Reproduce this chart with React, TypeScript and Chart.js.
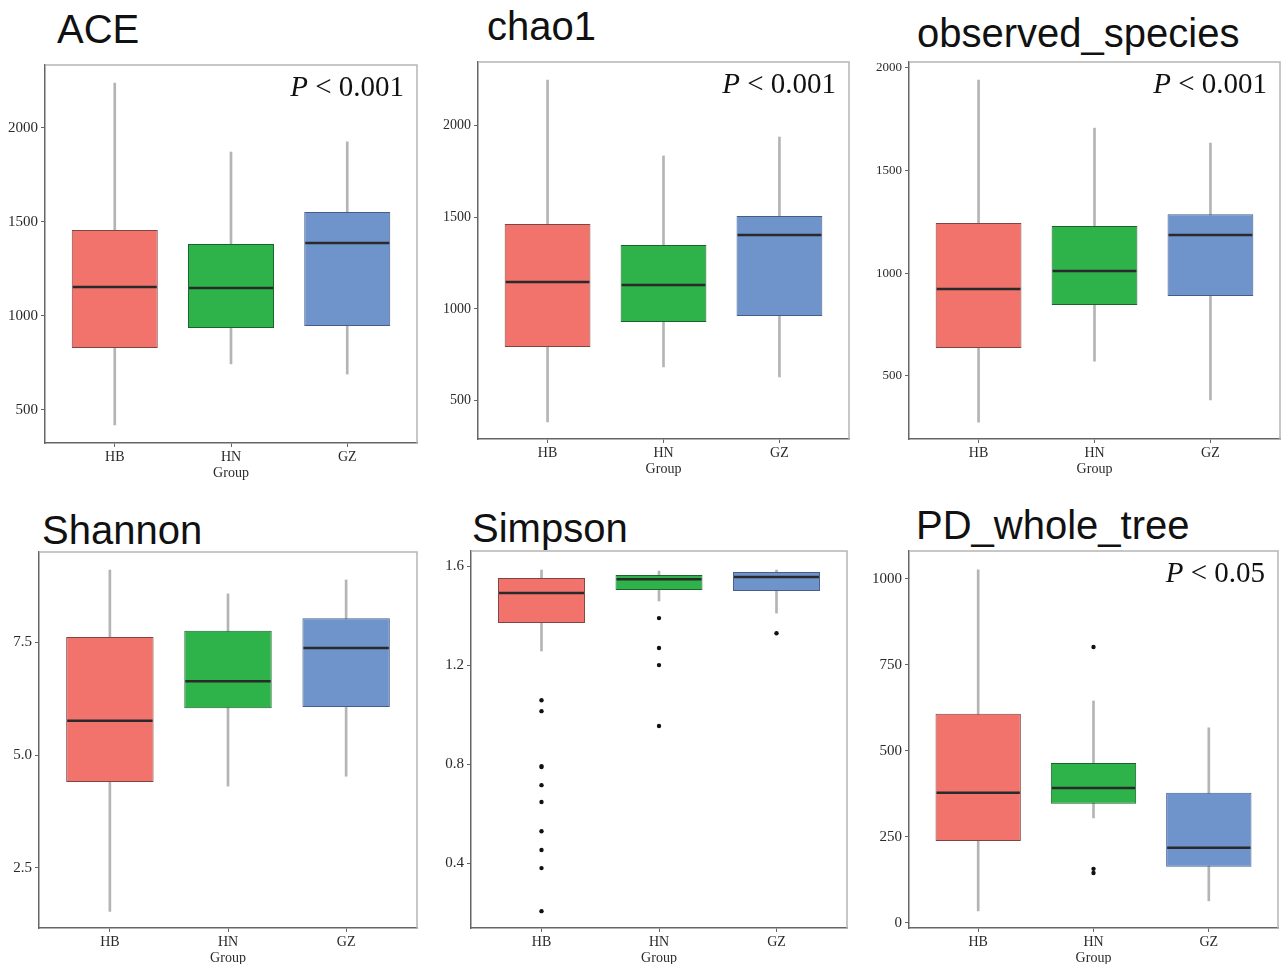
import React, { useEffect, useRef } from 'react';
import { Chart, registerables } from 'chart.js';

Chart.register(...registerables);

// ---------- data ----------
const categories = ['HB', 'HN', 'GZ'];

const aceLow = [420, 745, 691];
const aceQ1 = [830, 936, 947];
const aceMedian = [1154, 1149, 1388];
const aceQ3 = [1457, 1383, 1553];
const aceHigh = [2239, 1872, 1926];
const aceOutliers: number[][] = [[], [], []];
const aceTicks = [500, 1000, 1500, 2000];
const aceTickLabels = ['500', '1000', '1500', '2000'];

const chaoLow = [384, 684, 629];
const chaoQ1 = [793, 929, 962];
const chaoMedian = [1147, 1131, 1403];
const chaoQ3 = [1463, 1349, 1507];
const chaoHigh = [2248, 1834, 1937];
const chaoOutliers: number[][] = [[], [], []];
const chaoTicks = [500, 1000, 1500, 2000];
const chaoTickLabels = ['500', '1000', '1500', '2000'];

const obsLow = [274, 571, 382];
const obsQ1 = [635, 844, 888];
const obsMedian = [922, 1010, 1185];
const obsQ3 = [1244, 1229, 1287];
const obsHigh = [1940, 1706, 1633];
const obsOutliers: number[][] = [[], [], []];
const obsTicks = [500, 1000, 1500, 2000];
const obsTickLabels = ['500', '1000', '1500', '2000'];

const shanLow = [1.53, 4.31, 4.53];
const shanQ1 = [4.4, 6.04, 6.07];
const shanMedian = [5.76, 6.64, 7.38];
const shanQ3 = [7.62, 7.76, 8.04];
const shanHigh = [9.11, 8.58, 8.89];
const shanOutliers: number[][] = [[], [], []];
const shanTicks = [2.5, 5.0, 7.5];
const shanTickLabels = ['2.5', '5.0', '7.5'];

const simLow = [1.257, 1.459, 1.41];
const simQ1 = [1.37, 1.503, 1.499];
const simMedian = [1.491, 1.547, 1.556];
const simQ3 = [1.552, 1.564, 1.576];
const simHigh = [1.584, 1.58, 1.584];
const simOutliers: number[][] = [
  [1.058, 1.014, 0.792, 0.788, 0.715, 0.647, 0.529, 0.453, 0.38, 0.206],
  [1.39, 1.269, 1.2, 0.954],
  [1.329],
];
const simTicks = [0.4, 0.8, 1.2, 1.6];
const simTickLabels = ['0.4', '0.8', '1.2', '1.6'];

const pdLow = [35, 305, 64];
const pdQ1 = [238, 346, 163];
const pdMedian = [378, 392, 218];
const pdQ3 = [608, 465, 378];
const pdHigh = [1026, 645, 567];
const pdOutliers: number[][] = [[], [802, 157, 145], []];
const pdTicks = [0, 250, 500, 750, 1000];
const pdTickLabels = ['0', '250', '500', '750', '1000'];

// ---------- styling / layout ----------
const FILL = ['#F1736C', '#2EB24A', '#6F94CC'];
const EDGE = ['#7e4542', '#1a632c', '#455e88'];
const SERIF = '"Liberation Serif", "Times New Roman", serif';
const SANS = '"Liberation Sans", Arial, sans-serif';

interface PanelCfg {
  title: string;
  titleX: number;
  titleTop: number;
  L: number; R: number; T: number; B: number;
  yMin: number; yMax: number;
  ticks: number[]; tickLabels: string[];
  low: number[]; q1: number[]; med: number[]; q3: number[]; high: number[];
  outliers: number[][];
  pText?: string;
  tickFont: number;
}

const panels: PanelCfg[] = [
  { title: 'ACE', titleX: 57, titleTop: 9, L: 45, R: 417, T: 65, B: 443, yMin: 324, yMax: 2335,
    ticks: aceTicks, tickLabels: aceTickLabels, low: aceLow, q1: aceQ1, med: aceMedian, q3: aceQ3, high: aceHigh,
    outliers: aceOutliers, pText: ' < 0.001', tickFont: 15 },
  { title: 'chao1', titleX: 487, titleTop: 6, L: 478, R: 849, T: 62, B: 439, yMin: 291, yMax: 2346,
    ticks: chaoTicks, tickLabels: chaoTickLabels, low: chaoLow, q1: chaoQ1, med: chaoMedian, q3: chaoQ3, high: chaoHigh,
    outliers: chaoOutliers, pText: ' < 0.001', tickFont: 14 },
  { title: 'observed_species', titleX: 917, titleTop: 13, L: 909, R: 1280, T: 62, B: 439, yMin: 192, yMax: 2028,
    ticks: obsTicks, tickLabels: obsTickLabels, low: obsLow, q1: obsQ1, med: obsMedian, q3: obsQ3, high: obsHigh,
    outliers: obsOutliers, pText: ' < 0.001', tickFont: 13 },
  { title: 'Shannon', titleX: 42, titleTop: 510, L: 39, R: 417, T: 552, B: 928, yMin: 1.16, yMax: 9.51,
    ticks: shanTicks, tickLabels: shanTickLabels, low: shanLow, q1: shanQ1, med: shanMedian, q3: shanQ3, high: shanHigh,
    outliers: shanOutliers, tickFont: 15 },
  { title: 'Simpson', titleX: 472, titleTop: 508, L: 471, R: 849, T: 551, B: 928, yMin: 0.138, yMax: 1.661,
    ticks: simTicks, tickLabels: simTickLabels, low: simLow, q1: simQ1, med: simMedian, q3: simQ3, high: simHigh,
    outliers: simOutliers, tickFont: 15 },
  { title: 'PD_whole_tree', titleX: 916, titleTop: 505, L: 909, R: 1280, T: 551, B: 928, yMin: -15, yMax: 1081,
    ticks: pdTicks, tickLabels: pdTickLabels, low: pdLow, q1: pdQ1, med: pdMedian, q3: pdQ3, high: pdHigh,
    outliers: pdOutliers, pText: ' < 0.05', tickFont: 15 },
];

const YW = 48;
const PT = 16;
const XH = 39;
const PR = 2;

function Panel({ cfg }: { cfg: PanelCfg }) {
  const ref = useRef<HTMLCanvasElement>(null);
  const width = cfg.R - cfg.L + YW + PR;
  const height = cfg.B - cfg.T + PT + XH;

  useEffect(() => {
    if (!ref.current) return;
    const tickColor = '#2a2a2a';
    const axisColor = '#666';

    const extras = {
      id: 'boxExtras',
      afterDatasetsDraw(chart: any) {
        const ctx = chart.ctx;
        const area = chart.chartArea;
        const yScale = chart.scales.y;
        ctx.save();
        // top/right frame
        ctx.strokeStyle = '#b5b5b5';
        ctx.lineWidth = 1.5;
        ctx.beginPath();
        ctx.moveTo(area.left, area.top);
        ctx.lineTo(area.right, area.top);
        ctx.lineTo(area.right, area.bottom);
        ctx.stroke();
        // medians
        const meta = chart.getDatasetMeta(0);
        meta.data.forEach((bar: any, i: number) => {
          const p = bar.getProps(['x', 'width'], true);
          const y = yScale.getPixelForValue(cfg.med[i]);
          ctx.strokeStyle = '#2a2a2a';
          ctx.lineWidth = 2.5;
          ctx.beginPath();
          ctx.moveTo(p.x - p.width / 2 + 1, y);
          ctx.lineTo(p.x + p.width / 2 - 1, y);
          ctx.stroke();
        });
        // P value
        if (cfg.pText) {
          ctx.fillStyle = '#111';
          ctx.textBaseline = 'alphabetic';
          ctx.textAlign = 'left';
          ctx.font = `italic 29px ${SERIF}`;
          const wP = ctx.measureText('P').width;
          ctx.font = `29px ${SERIF}`;
          const wR = ctx.measureText(cfg.pText).width;
          const x0 = area.right - 13 - wP - wR;
          const yb = area.top + 31;
          ctx.font = `italic 29px ${SERIF}`;
          ctx.fillText('P', x0, yb);
          ctx.font = `29px ${SERIF}`;
          ctx.fillText(cfg.pText, x0 + wP, yb);
        }
        ctx.restore();
      },
    };

    const outlierPts: { x: number; y: number }[] = [];
    cfg.outliers.forEach((arr, i) => arr.forEach((v) => outlierPts.push({ x: i + 1, y: v })));

    const chart = new Chart(ref.current, {
      type: 'bar',
      data: {
        datasets: [
          {
            type: 'bar',
            label: 'box',
            data: categories.map((_, i) => ({ x: i + 1, y: [cfg.q1[i], cfg.q3[i]] })) as any,
            backgroundColor: FILL,
            borderColor: EDGE,
            borderWidth: 1,
            borderSkipped: false,
            grouped: false,
            barPercentage: 0.74,
            categoryPercentage: 1,
            order: 1,
          } as any,
          {
            type: 'bar',
            label: 'whisker',
            data: categories.map((_, i) => ({ x: i + 1, y: [cfg.low[i], cfg.high[i]] })) as any,
            backgroundColor: '#b4b4b4',
            borderWidth: 0,
            barThickness: 2,
            grouped: false,
            order: 2,
          } as any,
          {
            type: 'scatter',
            label: 'outliers',
            data: outlierPts,
            backgroundColor: '#111',
            borderColor: '#111',
            borderWidth: 0,
            pointRadius: 2.2,
            order: 0,
          } as any,
        ],
      },
      options: {
        responsive: false,
        animation: false,
        layout: { padding: { top: PT, right: PR, left: 0, bottom: 0 } },
        plugins: {
          legend: { display: false },
          tooltip: { enabled: false },
          title: { display: false },
        },
        scales: {
          x: {
            type: 'linear',
            min: 0.4,
            max: 3.6,
            offset: false,
            afterBuildTicks: (s: any) => {
              s.ticks = categories.map((_, i) => ({ value: i + 1 }));
            },
            afterFit: (s: any) => {
              s.height = XH;
            },
            ticks: {
              autoSkip: false,
              maxRotation: 0,
              padding: 2,
              color: tickColor,
              font: { family: SERIF, size: 14 },
              callback: (_v: any, i: number) => categories[i],
            },
            grid: { drawOnChartArea: false, drawTicks: true, tickLength: 4, color: axisColor, offset: false },
            border: { display: true, color: axisColor, width: 1.5 },
            title: {
              display: true,
              text: 'Group',
              color: tickColor,
              font: { family: SERIF, size: 14 },
              padding: { top: 0, bottom: 0 },
            },
          },
          y: {
            type: 'linear',
            min: cfg.yMin,
            max: cfg.yMax,
            afterBuildTicks: (s: any) => {
              s.ticks = cfg.ticks.map((v) => ({ value: v }));
            },
            afterFit: (s: any) => {
              s.width = YW;
            },
            ticks: {
              padding: 3,
              color: tickColor,
              font: { family: SERIF, size: cfg.tickFont },
              callback: (_v: any, i: number) => cfg.tickLabels[i],
            },
            grid: { drawOnChartArea: false, drawTicks: true, tickLength: 4, color: axisColor },
            border: { display: true, color: axisColor, width: 1.5 },
          },
        },
      } as any,
      plugins: [extras],
    });
    return () => chart.destroy();
  }, []);

  return (
    <>
      <div
        style={{
          position: 'absolute',
          left: cfg.titleX,
          top: cfg.titleTop,
          fontFamily: SANS,
          fontSize: 40,
          lineHeight: '40px',
          color: '#111',
          whiteSpace: 'nowrap',
        }}
      >
        {cfg.title}
      </div>
      <canvas
        ref={ref}
        width={width}
        height={height}
        style={{
          position: 'absolute',
          left: cfg.L - YW,
          top: cfg.T - PT,
          width,
          height,
        }}
      />
    </>
  );
}

export default function App() {
  return (
    <div
      style={{
        position: 'absolute',
        left: 0,
        top: 0,
        width: 1282,
        height: 964,
        background: '#fff',
        overflow: 'hidden',
      }}
    >
      {panels.map((p) => (
        <Panel key={p.title} cfg={p} />
      ))}
    </div>
  );
}
